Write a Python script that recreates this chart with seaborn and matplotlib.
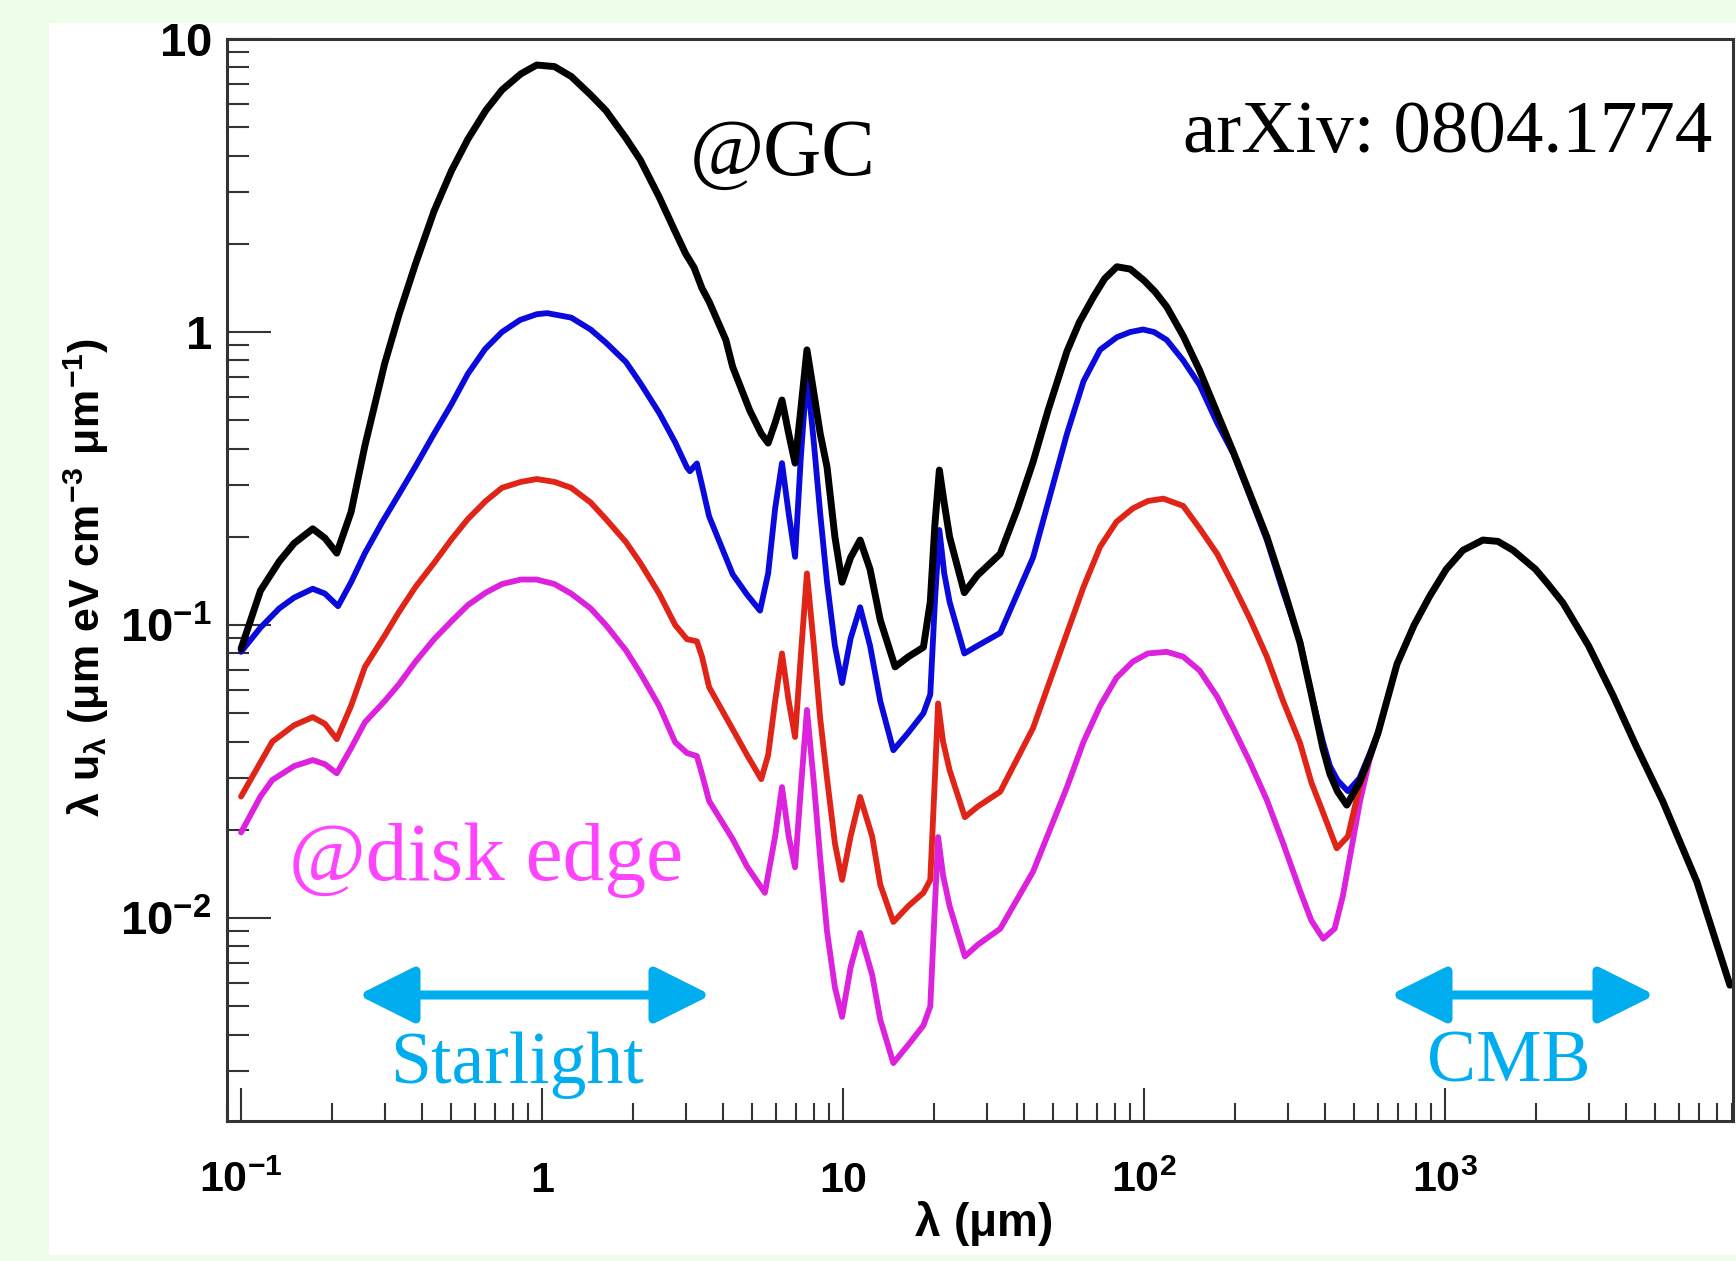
import numpy as np
import pandas as pd
import matplotlib
matplotlib.use("Agg")
import matplotlib.pyplot as plt
import seaborn as sns
from matplotlib.patches import Rectangle
from matplotlib.ticker import LogLocator, NullFormatter, FixedLocator

# ---------------- data ----------------
lam_gc = [0.1, 0.116, 0.134, 0.15, 0.173, 0.19, 0.208, 0.232, 0.258, 0.3, 0.335, 0.38, 0.438, 0.5,
          0.567, 0.65, 0.736, 0.85, 0.96, 1.1, 1.25, 1.45, 1.63, 1.9, 2.12, 2.45, 2.77, 3.0, 3.2, 3.4,
          3.59, 4.08, 4.3, 4.9, 5.35, 5.64, 5.95, 6.27, 6.6, 6.93, 7.25, 7.59, 8.0, 8.4, 8.85, 9.4,
          9.93, 10.6, 11.4, 12.3, 13.3, 14.9, 16.5, 18.5, 19.5, 20.2, 20.9, 21.7, 22.6, 25.3, 28,
          33.3, 38, 42.8, 48, 55.5, 61, 68, 74, 81.3, 90, 100, 109, 119, 135, 153, 175, 198, 225, 256,
          290, 330, 360, 393, 415, 440, 472, 520, 563, 600,
          693, 790, 892, 1010, 1148, 1337, 1500, 1683, 2000, 2200, 2467, 3000, 3614, 4300, 5297, 6871, 8850]
val_gc = [0.083, 0.131, 0.165, 0.19, 0.213, 0.198, 0.176, 0.243, 0.41, 0.78, 1.15, 1.71, 2.59, 3.55,
          4.55, 5.7, 6.7, 7.6, 8.15, 8.05, 7.45, 6.45, 5.70, 4.59, 3.87, 2.89, 2.20, 1.85, 1.66, 1.41,
          1.27, 0.94, 0.76, 0.54, 0.45, 0.418, 0.49, 0.586, 0.45, 0.357, 0.55, 0.869, 0.62, 0.45, 0.346, 0.2,
          0.140, 0.17, 0.195, 0.155, 0.104, 0.072, 0.078, 0.084, 0.12, 0.22, 0.338, 0.26, 0.2, 0.129, 0.148,
          0.175, 0.25, 0.36, 0.54, 0.86, 1.08, 1.32, 1.52, 1.67, 1.64, 1.50, 1.37, 1.22, 0.97, 0.74, 0.53, 0.39, 0.28, 0.20,
          0.135, 0.087, 0.058, 0.038, 0.031, 0.027, 0.0243, 0.029, 0.0357, 0.043,
          0.0736, 0.10, 0.126, 0.155, 0.180, 0.195, 0.193, 0.180, 0.155, 0.138, 0.119, 0.085, 0.0577, 0.039, 0.025, 0.0133, 0.0059]

lam_r4 = [0.1, 0.116, 0.134, 0.15, 0.173, 0.19, 0.21, 0.232, 0.258, 0.294, 0.335, 0.381, 0.438, 0.5,
          0.567, 0.647, 0.736, 0.846, 0.96, 1.04, 1.25, 1.45, 1.63, 1.9, 2.12, 2.45, 2.77, 3.03, 3.1, 3.27,
          3.4, 3.59, 4.3, 4.8, 5.3, 5.64, 5.95, 6.27, 6.6, 6.93, 7.25, 7.59, 8.0, 8.4, 8.85, 9.4, 9.93,
          10.6, 11.4, 12.3, 13.3, 14.7, 16.5, 18.5, 19.5, 20.2, 20.9, 21.7, 22.6, 25.3, 28, 33.3, 42.8,
          55.5, 63, 71.5, 81.3, 90, 99.3, 108, 119, 135, 153, 175, 198, 225, 256, 290, 330, 360, 393, 415,
          440, 476, 520, 563, 600]
val_r4 = [0.081, 0.098, 0.114, 0.124, 0.133, 0.128, 0.116, 0.14, 0.176, 0.224, 0.28, 0.35, 0.45, 0.567,
          0.72, 0.875, 1.0, 1.10, 1.15, 1.16, 1.12, 1.02, 0.92, 0.79, 0.67, 0.53, 0.42, 0.345, 0.335, 0.356,
          0.30, 0.235, 0.149, 0.127, 0.112, 0.15, 0.25, 0.357, 0.24, 0.171, 0.38, 0.724, 0.42, 0.24, 0.14, 0.085, 0.0634,
          0.09, 0.115, 0.085, 0.055, 0.0374, 0.043, 0.05, 0.058, 0.12, 0.211, 0.15, 0.12, 0.080, 0.085, 0.094, 0.17,
          0.45, 0.68, 0.87, 0.96, 1.0, 1.02, 1.0, 0.94, 0.80, 0.66, 0.49, 0.385, 0.275, 0.195, 0.13, 0.088, 0.058, 0.040, 0.033,
          0.0295, 0.0271, 0.030, 0.0365, 0.043]

lam_r8 = [0.1, 0.116, 0.127, 0.15, 0.173, 0.19, 0.208, 0.232, 0.258, 0.3, 0.335, 0.38, 0.438, 0.5,
          0.567, 0.65, 0.736, 0.85, 0.96, 1.1, 1.25, 1.45, 1.63, 1.9, 2.12, 2.45, 2.77, 3.03, 3.27, 3.4,
          3.59, 4.3, 4.8, 5.35, 5.64, 5.95, 6.27, 6.6, 6.93, 7.25, 7.59, 8.0, 8.4, 8.85, 9.4, 9.93, 10.6,
          11.4, 12.5, 13.3, 14.7, 16.5, 18.5, 19.5, 20.2, 20.7, 21.5, 22.6, 25.4, 28, 33.3, 42.8, 55.5,
          63, 71.5, 81, 91.8, 103, 116, 135, 153, 175, 198, 225, 256, 290, 330, 360, 393, 437, 476, 520, 563, 600]
val_r8 = [0.026, 0.034, 0.040, 0.0455, 0.0485, 0.046, 0.0408, 0.053, 0.072, 0.092, 0.111, 0.135, 0.163, 0.196,
          0.230, 0.265, 0.294, 0.308, 0.315, 0.308, 0.294, 0.262, 0.230, 0.192, 0.163, 0.128, 0.100, 0.0895, 0.088, 0.078,
          0.0614, 0.0441, 0.036, 0.0298, 0.036, 0.055, 0.080, 0.055, 0.0415, 0.08, 0.15, 0.085, 0.048, 0.03, 0.018, 0.0135, 0.019,
          0.0259, 0.019, 0.013, 0.0097, 0.011, 0.0122, 0.0135, 0.03, 0.054, 0.04, 0.032, 0.0221, 0.024, 0.027, 0.0445, 0.094,
          0.135, 0.185, 0.225, 0.25, 0.265, 0.27, 0.255, 0.214, 0.175, 0.137, 0.105, 0.078, 0.055, 0.0396, 0.029, 0.023, 0.0173,
          0.019, 0.028, 0.0357, 0.043]

lam_edge = [0.1, 0.116, 0.127, 0.15, 0.173, 0.19, 0.208, 0.232, 0.258, 0.3, 0.335, 0.38, 0.438, 0.5,
            0.567, 0.65, 0.736, 0.85, 0.96, 1.1, 1.25, 1.45, 1.63, 1.9, 2.12, 2.45, 2.77, 3.03, 3.27, 3.4,
            3.59, 4.3, 4.8, 5.5, 5.95, 6.27, 6.6, 6.93, 7.25, 7.59, 8.0, 8.4, 8.85, 9.4, 9.93, 10.6, 11.4,
            12.5, 13.3, 14.7, 16.5, 18.5, 19.5, 20.2, 20.7, 21.5, 22.6, 25.4, 28, 33.3, 42.8, 55.5, 63, 71.5,
            81, 91.8, 103, 119, 135, 153, 175, 198, 225, 256, 290, 330, 360, 394, 430, 458, 522, 563, 600]
val_edge = [0.0196, 0.026, 0.0296, 0.033, 0.0346, 0.0335, 0.0312, 0.038, 0.0466, 0.055, 0.0629, 0.075, 0.0895, 0.103,
            0.117, 0.129, 0.138, 0.143, 0.143, 0.138, 0.128, 0.114, 0.100, 0.082, 0.0686, 0.053, 0.0398, 0.0366, 0.0357, 0.031,
            0.0251, 0.0186, 0.015, 0.0122, 0.019, 0.028, 0.019, 0.0149, 0.028, 0.0513, 0.029, 0.016, 0.009, 0.0058, 0.0046, 0.0068, 0.0089,
            0.0064, 0.0045, 0.0032, 0.0037, 0.0043, 0.005, 0.011, 0.0189, 0.014, 0.011, 0.0074, 0.0081, 0.0092, 0.0144, 0.028, 0.04, 0.053,
            0.066, 0.075, 0.08, 0.081, 0.078, 0.070, 0.057, 0.0445, 0.034, 0.0253, 0.018, 0.0124, 0.0098, 0.0085, 0.0092, 0.0119,
            0.025, 0.035, 0.043]

series = [("disk edge", lam_edge, val_edge, "#DD22DD", 4.2),
          ("R2", lam_r8, val_r8, "#E02418", 4.2),
          ("R1", lam_r4, val_r4, "#0A0ADC", 4.2),
          ("GC", lam_gc, val_gc, "#000000", 5.0)]

xtick_vals = [0.1, 1, 10, 100, 1000]
xtick_labels = [r"$10^{-1}$", r"$1$", r"$10$", r"$10^{2}$", r"$10^{3}$"]
ytick_vals = [0.01, 0.1, 1, 10]
ytick_labels = [r"$10^{-2}$", r"$10^{-1}$", r"$1$", r"$10$"]

# ---------------- style ----------------
sns.set_style("white")
plt.rcParams["font.family"] = ["Liberation Sans", "DejaVu Sans"]
plt.rcParams["text.color"] = "black"
plt.rcParams["xtick.labelcolor"] = "black"
plt.rcParams["ytick.labelcolor"] = "black"
plt.rcParams["mathtext.fontset"] = "custom"
plt.rcParams["mathtext.rm"] = "Liberation Sans:bold"
plt.rcParams["mathtext.it"] = "Liberation Sans:bold"
plt.rcParams["mathtext.bf"] = "Liberation Sans:bold"
plt.rcParams["mathtext.sf"] = "Liberation Sans:bold"

W, H = 1736, 1261
def fx(x):
    return x / W
def fy(y):
    return 1 - y / H

fig = plt.figure(figsize=(W / 100, H / 100), dpi=100)
fig.patch.set_facecolor("#EEFDE8")
fig.patches.append(Rectangle((fx(49), fy(1255)), 1 - fx(49), fy(23) - fy(1255),
                             transform=fig.transFigure, facecolor="white", edgecolor="none", zorder=-5))

ax = fig.add_axes([fx(227), fy(1121), fx(1733) - fx(227), fy(39) - fy(1121)])
ax.set_zorder(2)
ax.set_facecolor("white")
ax.set_xscale("log")
ax.set_yscale("log")

for name, lam, val, col, lw in series:
    df = pd.DataFrame({"lam": lam, "val": val})
    sns.lineplot(data=df, x="lam", y="val", ax=ax, color=col, linewidth=lw,
                 estimator=None, sort=False, solid_joinstyle="round", solid_capstyle="round")

ax.set_xlim(0.0898, 9060)
ax.set_ylim(0.00203, 10)
ax.set_xlabel("")
ax.set_ylabel("")

for s in ax.spines.values():
    s.set_color("#333333")
    s.set_linewidth(2.2)

ax.xaxis.set_major_locator(FixedLocator(xtick_vals))
ax.set_xticklabels(xtick_labels)
ax.xaxis.set_minor_locator(LogLocator(base=10, subs=np.arange(2, 10), numticks=30))
ax.xaxis.set_minor_formatter(NullFormatter())
ax.yaxis.set_major_locator(FixedLocator(ytick_vals))
ax.set_yticklabels(ytick_labels)
ax.yaxis.set_minor_locator(LogLocator(base=10, subs=np.arange(2, 10), numticks=30))
ax.yaxis.set_minor_formatter(NullFormatter())

ax.tick_params(axis="x", which="major", direction="in", length=24, width=1.5, color="#333333",
               labelsize=31, labelcolor="black", pad=51, top=False, bottom=True)
ax.tick_params(axis="x", which="minor", direction="in", length=13, width=1.5, color="#333333",
               top=False, bottom=True)
ax.tick_params(axis="y", which="major", direction="in", length=32, width=1.5, color="#333333",
               labelsize=34, labelcolor="black", pad=11, left=True, right=False)
ax.tick_params(axis="y", which="minor", direction="in", length=16, width=1.5, color="#333333",
               left=True, right=False)
for lbl in ax.get_xticklabels():
    lbl.set_va("baseline")

# axis titles
fig.text(fx(86), fy(578), r"$\lambda\ u_{\lambda}\ (\mu m\ eV\ cm^{-3}\ \mu m^{-1})$",
         rotation=90, ha="center", va="center", fontsize=31, color="black")
fig.text(fx(983), fy(1223), r"$\lambda\ (\mu m)$", ha="center", va="center", fontsize=33, color="black")

# annotations
serif = ["Liberation Serif", "DejaVu Serif"]
cyan = "#00AEEF"
fig.text(fx(783), fy(175), "@GC", family=serif, fontsize=58, ha="center", va="baseline", color="black")
fig.text(fx(1712), fy(152), "arXiv: 0804.1774", family=serif, fontsize=54, ha="right", va="baseline",
         color="black")
fig.text(fx(486), fy(880), "@disk edge", family=serif, fontsize=60, ha="center", va="baseline",
         color="#FF44FF")
fig.text(fx(517), fy(1083), "Starlight", family=serif, fontsize=53, ha="center", va="baseline", color=cyan)
fig.text(fx(1509), fy(1082), "CMB", family=serif, fontsize=53, ha="center", va="baseline", color=cyan)

arrow_kw = dict(arrowstyle="<|-|>,head_length=2.3,head_width=1.15", mutation_scale=15,
                color=cyan, lw=6.5, shrinkA=0, shrinkB=0)
ax.annotate("", xy=(fx(358), fy(995)), xytext=(fx(711), fy(995)),
            xycoords="figure fraction", textcoords="figure fraction", arrowprops=arrow_kw)
ax.annotate("", xy=(fx(1390), fy(995)), xytext=(fx(1655), fy(995)),
            xycoords="figure fraction", textcoords="figure fraction", arrowprops=arrow_kw)

fig.savefig("out.png", dpi=100, facecolor=fig.get_facecolor())
